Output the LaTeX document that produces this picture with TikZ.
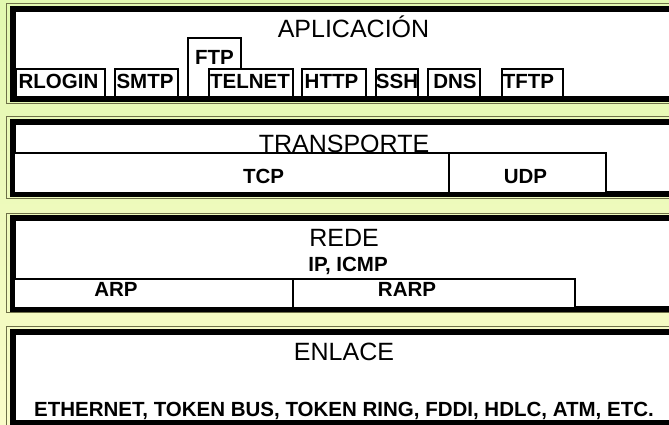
\documentclass[tikz,border=0pt]{standalone}
\usepackage{fontspec}
\setmainfont{Liberation Sans}
\definecolor{bgtop}{RGB}{226,248,176}
\definecolor{bgbot}{RGB}{250,252,200}
\definecolor{olivec}{RGB}{110,112,72}
\begin{document}
\begin{tikzpicture}[x=1pt,y=-1pt,
  pbox/.style={draw=black, line width=1.5pt, fill=white, inner sep=0pt, outer sep=0pt, anchor=north west},
  ttl/.style={anchor=base, inner sep=0pt, font=\fontsize{25}{30}\selectfont},
  lbl/.style={anchor=base, inner sep=0pt, font=\fontsize{20.5}{24}\selectfont\bfseries}
]
\useasboundingbox (0,0) rectangle (669,425);
\clip (0,0) rectangle (669,425);
\shade[top color=bgtop, bottom color=bgbot] (0pt,0pt) rectangle (669pt,-425pt);
% layer frames
\foreach \ot/\bt/\bb/\ob in {3.5/9/99/103.3, 116.8/122.2/194/198.5, 213.3/218/308.5/312.7, 326.7/332.2/423/430}{
  \fill[white] (12.7,\bt) rectangle (700,\bb);
  \draw[olivec, line width=1.2pt] (700,\ot) -- (6.5,\ot) -- (6.5,\ob) -- (700,\ob);
  \draw[black, line width=6pt, line join=miter] (700,\bt) -- (12.7,\bt) -- (12.7,\bb) -- (700,\bb);
}
% APLICACION
\node[ttl] (tapl) at (353.5,37.5) {APLICACIÓN};
\node[pbox, minimum width=89, minimum height=28] (rlogin) at (16,69) {};
\node[pbox, minimum width=63, minimum height=28] (smtp) at (115,69) {};
\node[pbox, minimum width=53, minimum height=59] (ftp) at (188,38) {};
\node[pbox, minimum width=84, minimum height=28] (telnet) at (209,69) {};
\node[pbox, minimum width=64, minimum height=28] (http) at (302,69) {};
\node[pbox, minimum width=42, minimum height=28] (ssh) at (376,69) {};
\node[pbox, minimum width=52, minimum height=28] (dns) at (428,69) {};
\node[pbox, minimum width=61, minimum height=28] (tftp) at (502,69) {};
\node[lbl] (lrlogin) at (58.5,88.3) {RLOGIN};
\node[lbl] (lsmtp) at (145,88.3) {SMTP};
\node[lbl] (lftp) at (214.5,65) {FTP};
\node[lbl] (ltelnet) at (250,88.3) {TELNET};
\node[lbl] (lhttp) at (331.5,88.3) {HTTP};
\node[lbl] (lssh) at (397,88.3) {SSH};
\node[lbl] (ldns) at (455,88.3) {DNS};
\node[lbl] (ltftp) at (528.5,88.3) {TFTP};
% TRANSPORTE
\node[pbox, minimum width=435, minimum height=40] (tcp) at (14,153) {};
\node[pbox, minimum width=157, minimum height=40] (udp) at (449,153) {};
\node[ttl] (ttra) at (344,152.5) {TRANSPORTE};
\node[lbl] (ltcp) at (263.5,183.3) {TCP};
\node[lbl] (ludp) at (525.5,183.3) {UDP};
% REDE
\node[ttl] (tred) at (344,246.7) {REDE};
\node[lbl] (lip) at (348,271) {IP, ICMP};
\node[pbox, minimum width=279, minimum height=29] (arp) at (14,279) {};
\node[pbox, minimum width=282, minimum height=29] (rarp) at (293,279) {};
\node[lbl] (larp) at (116,296.7) {ARP};
\node[lbl] (lrarp) at (407,296.7) {RARP};
% ENLACE
\node[ttl] (tenl) at (344,360) {ENLACE};
\node[lbl] (leth) at (344,416.7) {ETHERNET, TOKEN BUS, TOKEN RING, FDDI, HDLC, ATM, ETC.};
\end{tikzpicture}
\end{document}
